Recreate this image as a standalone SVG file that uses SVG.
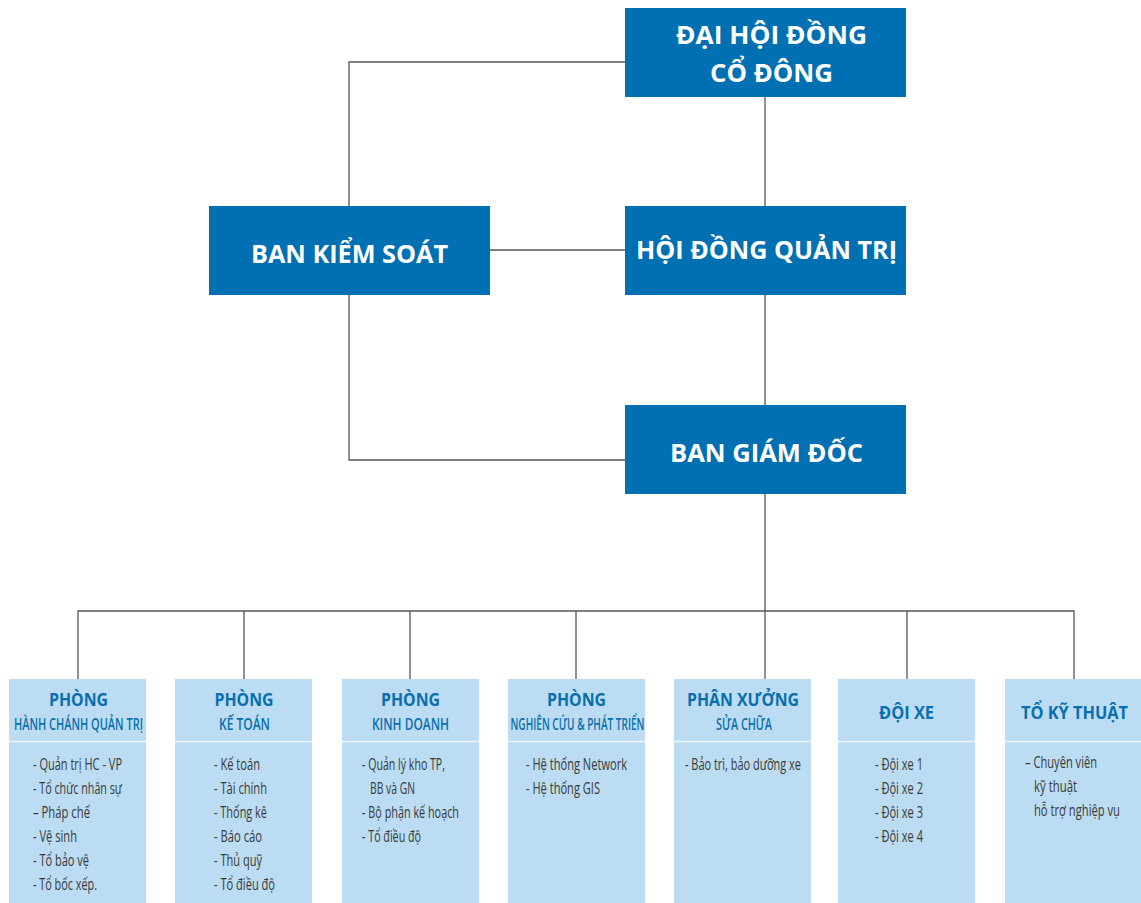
<svg xmlns="http://www.w3.org/2000/svg" width="1141" height="903" viewBox="0 0 1141 903">
<style>
.top{fill:#0070b3}
.tt{font-family:"Open Sans","Liberation Sans",sans-serif;font-weight:700;font-size:25px;fill:#ffffff;text-anchor:middle}
.box{fill:#bbdcf2}
.sep{stroke:#eef6fc;stroke-width:1.5}
.h1{font-family:"Open Sans","Liberation Sans",sans-serif;font-weight:700;font-size:18px;fill:#0a6fb0;text-anchor:middle}
.h2{font-family:"Open Sans","Liberation Sans",sans-serif;font-weight:600;font-size:16.5px;fill:#0a6fb0;text-anchor:middle}
.b{font-family:"Open Sans","Liberation Sans",sans-serif;font-size:16.5px;fill:#3a3a3a}
.c{fill:none;stroke:#555555;stroke-width:1.3}
</style>
<g id="connectors">
<path class="c" d="M625 62 H349 V206"/>
<path class="c" d="M765 97 V206"/>
<path class="c" d="M490 250 H625"/>
<path class="c" d="M765 295 V405"/>
<path class="c" d="M349 295 V460 H625"/>
<path class="c" d="M765 494 V611"/>
<path class="c" d="M78 679 V611 H1074 V679"/>
<path class="c" d="M244 611 V679 M410 611 V679 M576 611 V679 M765 611 V679 M907 611 V679"/>
</g>
<g id="dai-hoi-dong-co-dong">
<rect class="top" x="625" y="8" width="281" height="89"/>
<text class="tt" x="771.5" y="44" textLength="191" lengthAdjust="spacingAndGlyphs">ĐẠI HỘI ĐỒNG</text>
<text class="tt" x="771.5" y="82" textLength="123" lengthAdjust="spacingAndGlyphs">CỔ ĐÔNG</text>
</g>
<g id="ban-kiem-soat">
<rect class="top" x="209" y="206" width="281" height="89"/>
<text class="tt" x="349.5" y="263" textLength="197" lengthAdjust="spacingAndGlyphs">BAN KIỂM SOÁT</text>
</g>
<g id="hoi-dong-quan-tri">
<rect class="top" x="625" y="206" width="281" height="89"/>
<text class="tt" x="766.5" y="259" textLength="261" lengthAdjust="spacingAndGlyphs">HỘI ĐỒNG QUẢN TRỊ</text>
</g>
<g id="ban-giam-doc">
<rect class="top" x="625" y="405" width="281" height="89"/>
<text class="tt" x="766.5" y="462" textLength="193" lengthAdjust="spacingAndGlyphs">BAN GIÁM ĐỐC</text>
</g>
<g id="phong-hcqt">
<rect class="box" x="9" y="679" width="137" height="224"/>
<line class="sep" x1="9" y1="741.5" x2="146" y2="741.5"/>
<text class="h1" x="78.5" y="706" textLength="59" lengthAdjust="spacingAndGlyphs">PHÒNG</text>
<text class="h2" x="78.5" y="730" textLength="129" lengthAdjust="spacingAndGlyphs">HÀNH CHÁNH QUẢN TRỊ</text>
<text class="b" x="33" y="770" textLength="89" lengthAdjust="spacingAndGlyphs">- Quản trị HC - VP</text>
<text class="b" x="33" y="794" textLength="89" lengthAdjust="spacingAndGlyphs">- Tổ chức nhân sự</text>
<text class="b" x="33" y="818" textLength="57" lengthAdjust="spacingAndGlyphs">– Pháp chế</text>
<text class="b" x="33" y="842" textLength="44" lengthAdjust="spacingAndGlyphs">- Vệ sinh</text>
<text class="b" x="33" y="866" textLength="56" lengthAdjust="spacingAndGlyphs">- Tổ bảo vệ</text>
<text class="b" x="33" y="890" textLength="64" lengthAdjust="spacingAndGlyphs">- Tổ bốc xếp.</text>
</g>
<g id="phong-ke-toan">
<rect class="box" x="175" y="679" width="137" height="224"/>
<line class="sep" x1="175" y1="741.5" x2="312" y2="741.5"/>
<text class="h1" x="244" y="706" textLength="59" lengthAdjust="spacingAndGlyphs">PHÒNG</text>
<text class="h2" x="244.5" y="730" textLength="51" lengthAdjust="spacingAndGlyphs">KẾ TOÁN</text>
<text class="b" x="214" y="770" textLength="46" lengthAdjust="spacingAndGlyphs">- Kế toán</text>
<text class="b" x="214" y="794" textLength="53" lengthAdjust="spacingAndGlyphs">- Tài chính</text>
<text class="b" x="214" y="818" textLength="53" lengthAdjust="spacingAndGlyphs">- Thống kê</text>
<text class="b" x="214" y="842" textLength="48" lengthAdjust="spacingAndGlyphs">- Báo cáo</text>
<text class="b" x="214" y="866" textLength="48" lengthAdjust="spacingAndGlyphs">- Thủ quỹ</text>
<text class="b" x="214" y="890" textLength="61" lengthAdjust="spacingAndGlyphs">- Tổ điều độ</text>
</g>
<g id="phong-kinh-doanh">
<rect class="box" x="342" y="679" width="137" height="224"/>
<line class="sep" x1="342" y1="741.5" x2="479" y2="741.5"/>
<text class="h1" x="410.5" y="706" textLength="59" lengthAdjust="spacingAndGlyphs">PHÒNG</text>
<text class="h2" x="410.5" y="730" textLength="77" lengthAdjust="spacingAndGlyphs">KINH DOANH</text>
<text class="b" x="362" y="770" textLength="83" lengthAdjust="spacingAndGlyphs">- Quản lý kho TP,</text>
<text class="b" x="370" y="794" textLength="45" lengthAdjust="spacingAndGlyphs">BB và GN</text>
<text class="b" x="362" y="818" textLength="97" lengthAdjust="spacingAndGlyphs">- Bộ phận kế hoạch</text>
<text class="b" x="362" y="842" textLength="59" lengthAdjust="spacingAndGlyphs">- Tổ điều độ</text>
</g>
<g id="phong-nghien-cuu">
<rect class="box" x="508" y="679" width="137" height="224"/>
<line class="sep" x1="508" y1="741.5" x2="645" y2="741.5"/>
<text class="h1" x="576.5" y="706" textLength="59" lengthAdjust="spacingAndGlyphs">PHÒNG</text>
<text class="h2" x="577.5" y="730" textLength="134" lengthAdjust="spacingAndGlyphs">NGHIÊN CỨU &amp; PHÁT TRIỂN</text>
<text class="b" x="526" y="770" textLength="101" lengthAdjust="spacingAndGlyphs">- Hệ thống Network</text>
<text class="b" x="526" y="794" textLength="74" lengthAdjust="spacingAndGlyphs">- Hệ thống GIS</text>
</g>
<g id="phan-xuong-sua-chua">
<rect class="box" x="674" y="679" width="137" height="224"/>
<line class="sep" x1="674" y1="741.5" x2="811" y2="741.5"/>
<text class="h1" x="743" y="706" textLength="112" lengthAdjust="spacingAndGlyphs">PHÂN XƯỞNG</text>
<text class="h2" x="744" y="730" textLength="56" lengthAdjust="spacingAndGlyphs">SỬA CHỮA</text>
<text class="b" x="685" y="770" textLength="116" lengthAdjust="spacingAndGlyphs">- Bảo trì, bảo dưỡng xe</text>
</g>
<g id="doi-xe">
<rect class="box" x="838" y="679" width="137" height="224"/>
<line class="sep" x1="838" y1="741.5" x2="975" y2="741.5"/>
<text class="h1" x="906.5" y="719" textLength="55" lengthAdjust="spacingAndGlyphs">ĐỘI XE</text>
<text class="b" x="875" y="770" textLength="48" lengthAdjust="spacingAndGlyphs">- Đội xe 1</text>
<text class="b" x="875" y="794" textLength="48" lengthAdjust="spacingAndGlyphs">- Đội xe 2</text>
<text class="b" x="875" y="818" textLength="48" lengthAdjust="spacingAndGlyphs">- Đội xe 3</text>
<text class="b" x="875" y="842" textLength="48" lengthAdjust="spacingAndGlyphs">- Đội xe 4</text>
</g>
<g id="to-ky-thuat">
<rect class="box" x="1005" y="679" width="136" height="224"/>
<line class="sep" x1="1005" y1="741.5" x2="1141" y2="741.5"/>
<text class="h1" x="1074.5" y="719" textLength="107" lengthAdjust="spacingAndGlyphs">TỔ KỸ THUẬT</text>
<text class="b" x="1025" y="768" textLength="72" lengthAdjust="spacingAndGlyphs">– Chuyên viên</text>
<text class="b" x="1034" y="792" textLength="43" lengthAdjust="spacingAndGlyphs">kỹ thuật</text>
<text class="b" x="1034" y="816" textLength="86" lengthAdjust="spacingAndGlyphs">hỗ trợ nghiệp vụ</text>
</g>
</svg>
